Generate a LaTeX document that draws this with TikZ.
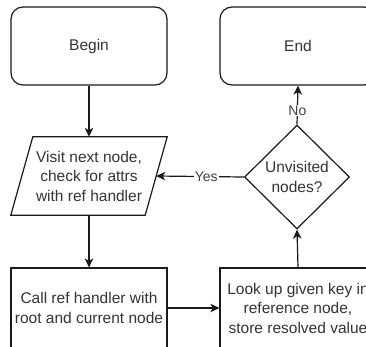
\documentclass[tikz,border=0pt]{standalone}
\usepackage{fontspec}
\setmainfont{Liberation Sans}
\usetikzlibrary{shapes.geometric,arrows.meta}

\tikzset{
  flow/.style={line width=1.2pt, draw=black!90},
  txt/.style={text=black!80, font=\fontsize{15.5}{19.5}\selectfont, align=center},
  terminal/.style={flow, txt, rectangle, rounded corners=12pt,
    minimum width=156pt, minimum height=78pt, inner sep=0pt},
  process/.style={flow, txt, rectangle,
    minimum width=156pt, minimum height=80pt, inner sep=0pt},
  iobox/.style={txt, rectangle, minimum width=134pt, minimum height=78pt, inner sep=0pt},
  decision/.style={flow, txt, diamond, minimum width=105pt, minimum height=104pt,
    inner sep=0pt},
  link/.style={flow, -{Stealth[length=9pt, width=8.5pt, inset=2.5pt]}},
  edgelabel/.style={fill=white, text=black!75, inner sep=1pt,
    font=\fontsize{14}{16}\selectfont}
}

\begin{document}
\begin{tikzpicture}[x=1pt, y=-1pt]
  \useasboundingbox (0,0) rectangle (366,346);
  \clip (0,0) rectangle (366,346);

  % nodes
  \node[terminal] (begin) at (89,46) {Begin};
  \node[terminal] (end) at (298,46) {End};
  \node[iobox] (visit) at (89,176) {Visit next node,\\check for attrs\\with ref handler};
  \draw[flow] ([xshift=11pt]visit.north west) -- ([xshift=11pt]visit.north east)
    -- ([xshift=-11pt]visit.south east) -- ([xshift=-11pt]visit.south west) -- cycle;
  \node[decision] (unvisited) at (297,177) {Unvisited\\nodes?};
  \node[process] (call) at (89,308) {Call ref handler with\\root and current node};
  \node[process] (lookup) at (298,308) {Look up given key in\\reference node,\\store resolved value};

  % connectors
  \draw[link] (begin.south) -- (visit.north);
  \draw[link] (visit.south) -- (call.north);
  \draw[link] (call.east) -- (lookup.west);
  \draw[link] (lookup.north) -- (unvisited.south);
  \draw[link] (unvisited.west) -- node[edgelabel, pos=0.43] {Yes} (visit.east);
  \draw[link] (unvisited.north) -- node[edgelabel, pos=0.36] {No} (end.south);
\end{tikzpicture}
\end{document}
